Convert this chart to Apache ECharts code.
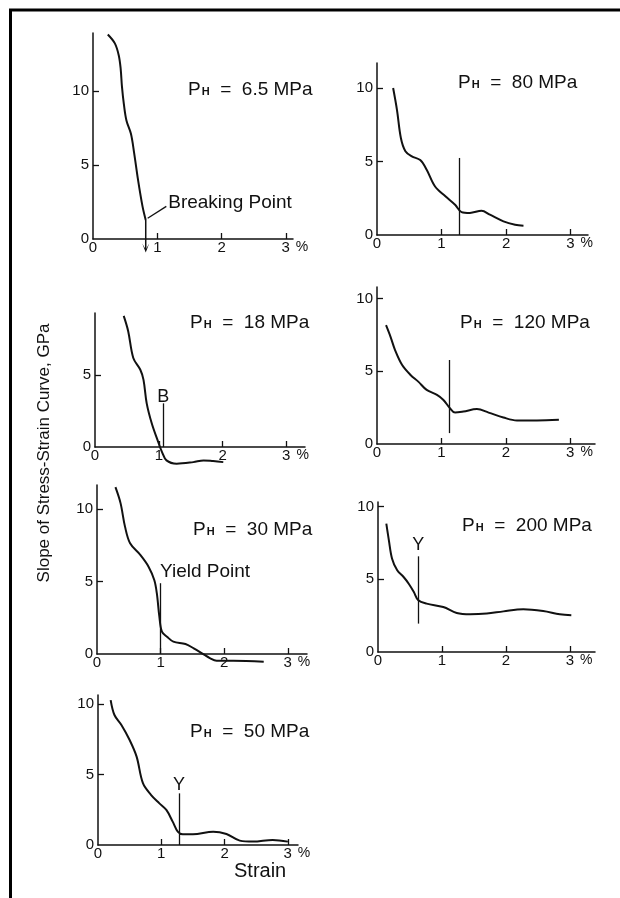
<!DOCTYPE html>
<html><head><meta charset="utf-8">
<script src="https://cdn.jsdelivr.net/npm/echarts@6/dist/echarts.min.js"></script>
<style>html,body{margin:0;padding:0;background:#fff}#c{width:620px;height:898px}</style>
</head><body><div id="c"></div>
<script>
// ---- data (strain in %, slope in GPa) ----
const strain65 = [0.23,0.34,0.40,0.43,0.45,0.48,0.52,0.59,0.64,0.70,0.77,0.82];
const slope65  = [13.8,13.2,12.4,11.5,10.3,9.1,8.0,7.1,5.8,4.0,2.2,1.28];
const strain80 = [0.25,0.31,0.37,0.44,0.54,0.67,0.77,0.90,1.06,1.21,1.31,1.44,1.62,1.75,1.96,2.14,2.27];
const slope80  = [10.0,8.5,6.6,5.7,5.35,5.1,4.44,3.3,2.63,2.06,1.56,1.5,1.65,1.38,0.93,0.70,0.63];
const strain18 = [0.45,0.52,0.60,0.71,0.76,0.81,0.89,0.99,1.05,1.12,1.28,1.54,1.70,1.85,2.01];
const slope18  = [9.1,8.04,6.18,5.36,4.66,3.03,1.63,0.35,-0.35,-0.93,-1.16,-1.05,-0.93,-0.98,-1.05];
const strain120 = [0.14,0.21,0.28,0.39,0.52,0.64,0.77,0.93,1.03,1.13,1.21,1.34,1.55,1.73,1.96,2.17,2.48,2.82];
const slope120  = [8.17,7.37,6.46,5.43,4.75,4.29,3.72,3.38,3.03,2.47,2.16,2.23,2.40,2.16,1.82,1.62,1.62,1.66];
const strain30 = [0.29,0.37,0.44,0.52,0.68,0.81,0.90,0.94,0.98,1.02,1.10,1.20,1.39,1.52,1.65,1.78,1.88,2.14,2.62];
const slope30  = [11.5,10.4,8.78,7.63,6.83,6.02,5.10,4.19,2.57,1.54,1.19,0.85,0.69,0.39,0.05,-0.30,-0.46,-0.46,-0.53];
const strain200 = [0.13,0.17,0.22,0.30,0.40,0.48,0.56,0.63,0.76,1.02,1.23,1.44,1.70,1.96,2.27,2.58,2.84,3.02];
const slope200  = [8.81,7.67,6.41,5.61,5.15,4.69,4.12,3.55,3.32,3.09,2.68,2.59,2.64,2.79,2.93,2.81,2.59,2.52];
const strain50 = [0.20,0.26,0.37,0.50,0.61,0.71,0.84,0.97,1.08,1.18,1.26,1.34,1.50,1.82,2.03,2.24,2.45,2.76,3.00];
const slope50  = [10.3,9.24,8.53,7.46,6.28,4.39,3.55,2.96,2.49,1.66,0.95,0.76,0.76,0.95,0.78,0.31,0.24,0.36,0.24];

const pressures = ['6.5','80','18','120','30','200','50'];
const curvesX = [strain65, strain80, strain18, strain120, strain30, strain200, strain50];
const curvesY = [slope65, slope80, slope18, slope120, slope30, slope200, slope50];

const xTickValues = [0,1,2,3];
const yTickValues = [0,5,10];

// vertical marker lines (strain, lower slope, upper slope)
const markerStrain = [0.82,1.28,1.07,1.12,0.99,0.63,1.28];
const markerLow    = [-0.75,0,0,0.75,0,1.95,0];
const markerHigh   = [1.28,5.24,3.03,5.78,4.88,6.57,3.67];

// breaking-point leader line (panel 1)
const leaderStrain = [0.85, 1.14];
const leaderSlope  = [1.4, 2.2];

// annotation texts
const annoPanel  = [0, 2, 4, 5, 6];
const annoText   = ['Breaking Point','B','Yield Point','Y','Y'];
const annoStrain = [1.17, 1.07, 0.99, 0.63, 1.28];
const annoSlope  = [2.43, 3.5, 5.66, 7.32, 4.26];

const yTitle = 'Slope of Stress-Strain Curve, GPa';
const xTitle = 'Strain';

// ---- layout ----
const FONT = 'Liberation Sans, Arial, Helvetica, sans-serif';
const INK = '#111';
const layout = [
  {left:93,  top:33,  width:200, height:206, xMax:3.11, yMax:13.9,  tl:188, tt:80},
  {left:377, top:63,  width:211, height:172, xMax:3.27, yMax:11.7,  tl:458, tt:73},
  {left:95,  top:313, width:210, height:134, xMax:3.29, yMax:9.3,   tl:190, tt:313},
  {left:377, top:287, width:218, height:157, xMax:3.38, yMax:10.8,  tl:460, tt:313},
  {left:97,  top:485, width:210, height:169, xMax:3.3,  yMax:11.65, tl:193, tt:520},
  {left:378, top:502, width:217, height:150, xMax:3.39, yMax:10.3,  tl:462, tt:516},
  {left:98,  top:695, width:200, height:150, xMax:3.16, yMax:10.66, tl:190, tt:722}
];

const grids = [], xAxes = [], yAxes = [], series = [], titles = [];
layout.forEach((L, i) => {
  grids.push({left:L.left, top:L.top, width:L.width, height:L.height, containLabel:false, outerBoundsMode:'none'});
  xAxes.push({
    type:'value', gridIndex:i, min:0, max:L.xMax, interval:1,
    axisLine:{onZero:false, lineStyle:{color:INK, width:1.5}},
    axisTick:{inside:true, length:6, lineStyle:{color:INK, width:1.3}, customValues:xTickValues.filter(v=>v>0)},
    axisLabel:{margin:1, color:INK, fontFamily:FONT, fontSize:15, customValues:xTickValues,
      formatter: v => v === 3 ? '{pad| }3{pct|%}' : String(v),
      rich:{pad:{width:18}, pct:{fontSize:14, fontFamily:FONT, color:INK, padding:[0,0,0,6]}}},
    splitLine:{show:false}
  });
  yAxes.push({
    type:'value', gridIndex:i, min:0, max:L.yMax, interval:5,
    axisLine:{onZero:false, lineStyle:{color:INK, width:1.5}},
    axisTick:{inside:true, length:6, lineStyle:{color:INK, width:1.3}, customValues:yTickValues.filter(v=>v>0 && v<=L.yMax)},
    axisLabel:{margin:4, color:INK, fontFamily:FONT, fontSize:15, customValues:yTickValues.filter(v=>v<=L.yMax)},
    splitLine:{show:false}
  });
  const segs = [];
  if (i !== 0) {
    segs.push([
      {coord:[markerStrain[i], markerLow[i]]},
      {coord:[markerStrain[i], markerHigh[i]]}
    ]);
  } else {
    segs.push([{coord:[leaderStrain[0], leaderSlope[0]]},{coord:[leaderStrain[1], leaderSlope[1]]}]);
  }
  const pts = [];
  annoPanel.forEach((p, k) => {
    if (p !== i) return;
    const isLong = annoText[k].length > 1;
    pts.push({
      name: annoText[k], coord:[annoStrain[k], annoSlope[k]],
      label:{show:true, formatter:'{b}', position: isLong ? 'right' : 'inside', distance:0,
        color:INK, fontFamily:FONT, fontSize: isLong ? 19 : 18}
    });
  });
  series.push({
    type:'line', xAxisIndex:i, yAxisIndex:i, clip:false, smooth:0.35,
    showSymbol:false, silent:true,
    lineStyle:{color:INK, width:2},
    data: curvesX[i].map((x, j) => [x, curvesY[i][j]]),
    markLine:{silent:true, animation:false, symbol:['none','none'], label:{show:false},
      lineStyle:{color:INK, width:1.3, type:'solid'}, data:segs},
    markPoint:{silent:true, animation:false, symbol:'circle', symbolSize:0, data:pts}
  });
  if (i === 0) {
    // breaking point drop with arrow below the axis
    series.push({
      type:'line', xAxisIndex:0, yAxisIndex:0, clip:false, silent:true,
      lineStyle:{color:INK, width:1.5}, showSymbol:true,
      data:[
        {value:[markerStrain[0], markerHigh[0]], symbol:'none'},
        {value:[markerStrain[0], markerLow[0]], symbol:'path://M0,0 L5,9 L10,0 L5,6 Z', symbolSize:[7,9], symbolOffset:[0,-2],
          itemStyle:{color:INK}}
      ]
    });
  }
  titles.push({
    left:L.tl, top:L.tt, padding:0,
    text:'{p|P}{h|H}{t|  =  ' + pressures[i] + ' MPa}',
    textStyle:{fontWeight:'normal', rich:{
      p:{fontFamily:FONT, fontSize:19, fontWeight:'normal', color:INK},
      h:{fontFamily:FONT, fontSize:11, fontWeight:'bold', color:INK, verticalAlign:'bottom', padding:[0,0,2,1]},
      t:{fontFamily:FONT, fontSize:19, fontWeight:'normal', color:INK}
    }}
  });
});
titles.push({left:234, top:861, padding:0, text:xTitle, textStyle:{fontFamily:FONT, fontSize:20, fontWeight:'normal', color:INK}});

const chart = echarts.init(document.getElementById('c'), null, {renderer:'canvas'});
chart.setOption({
  backgroundColor:'#fff', animation:false,
  title:titles, grid:grids, xAxis:xAxes, yAxis:yAxes, series:series,
  graphic:[
    {type:'line', shape:{x1:9, y1:10, x2:620, y2:10}, style:{stroke:'#000', lineWidth:3}},
    {type:'line', shape:{x1:10.5, y1:9, x2:10.5, y2:898}, style:{stroke:'#000', lineWidth:3}},
    {type:'text', x:44, y:453, rotation:Math.PI/2,
      style:{text:yTitle, fontFamily:FONT, fontSize:17, fill:INK, align:'center', verticalAlign:'middle'}}
  ]
});
</script></body></html>
